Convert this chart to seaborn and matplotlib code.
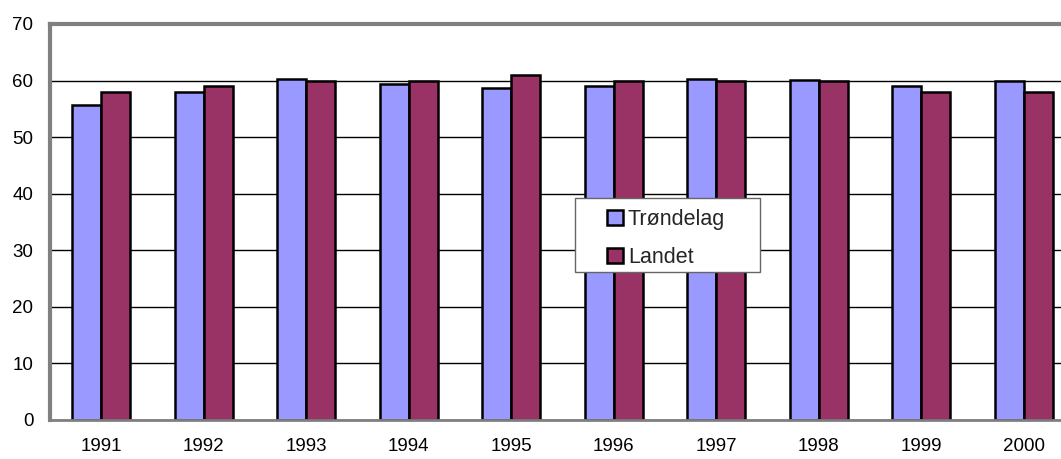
import matplotlib
matplotlib.use("Agg")
import matplotlib.pyplot as plt
import seaborn as sns
import pandas as pd
from matplotlib.patches import Patch, Rectangle
from matplotlib.ticker import FixedLocator

years = ["1991", "1992", "1993", "1994", "1995", "1996", "1997", "1998", "1999", "2000"]
trondelag = [55.7, 58.0, 60.2, 59.4, 58.6, 59.1, 60.2, 60.1, 59.1, 60.0]
landet = [58.0, 59.0, 60.0, 60.0, 61.0, 60.0, 60.0, 60.0, 58.0, 58.0]
series = ["Trøndelag", "Landet"]
colors = ["#9999FF", "#993366"]

df = pd.DataFrame({
    "year": years * 2,
    "value": trondelag + landet,
    "series": [series[0]] * len(years) + [series[1]] * len(years),
})

sns.set_style("white")
plt.rcParams["font.family"] = ["Liberation Sans", "DejaVu Sans"]

W, H = 1061, 459
fig = plt.figure(figsize=(W / 100, H / 100), dpi=100)
left, right, top, bottom = 50, 1061, 24, 420
ax = fig.add_axes([left / W, 1 - bottom / H, (right - left) / W, (bottom - top) / H])

sns.barplot(data=df, x="year", y="value", hue="series", palette=colors, saturation=1,
            width=0.57, edgecolor="black", linewidth=1.8, legend=False, ax=ax)

group_px = 102.5
ax.set_xlim(-0.5, -0.5 + (right - left) / group_px)
ax.set_ylim(0, 70)
ax.set_yticks(range(0, 71, 10))
ax.yaxis.grid(True, color="black", linewidth=1)
ax.set_axisbelow(True)
ax.set_xlabel("")
ax.set_ylabel("")

ax.xaxis.set_minor_locator(FixedLocator([i + 0.5 for i in range(-1, 10)]))
ax.tick_params(axis="x", which="major", length=0, labelsize=13.5, pad=13, colors="black")
ax.tick_params(axis="x", which="minor", length=5, width=1, color="#333333", direction="out")
ax.tick_params(axis="y", length=5, width=1, labelsize=13.5, pad=7, color="#333333",
               direction="out", labelcolor="black")

for side in ["left", "top", "bottom"]:
    ax.spines[side].set_visible(True)
    ax.spines[side].set_color("#808080")
ax.spines["left"].set_linewidth(3)
ax.spines["top"].set_linewidth(3)
ax.spines["bottom"].set_linewidth(2)
ax.spines["right"].set_visible(False)

# legend box drawn in figure pixels
box = Rectangle((575 / W, 1 - 272 / H), (760 - 575) / W, (272 - 198) / H,
                transform=fig.transFigure, facecolor="white", edgecolor="#666666",
                linewidth=1, zorder=5)
fig.patches.append(box)
handles = [Patch(facecolor=c, edgecolor="black", linewidth=1.8) for c in colors]
leg = fig.legend(handles, series, loc="upper left",
                 bbox_to_anchor=(601 / W, 1 - 203 / H),
                 frameon=False, fontsize=15.5, handlelength=0.7, handleheight=0.7,
                 handletextpad=0.25, labelspacing=0.75, borderpad=0.3, borderaxespad=0)
leg.set_zorder(6)

fig.savefig("out.png", dpi=100, facecolor="white")
